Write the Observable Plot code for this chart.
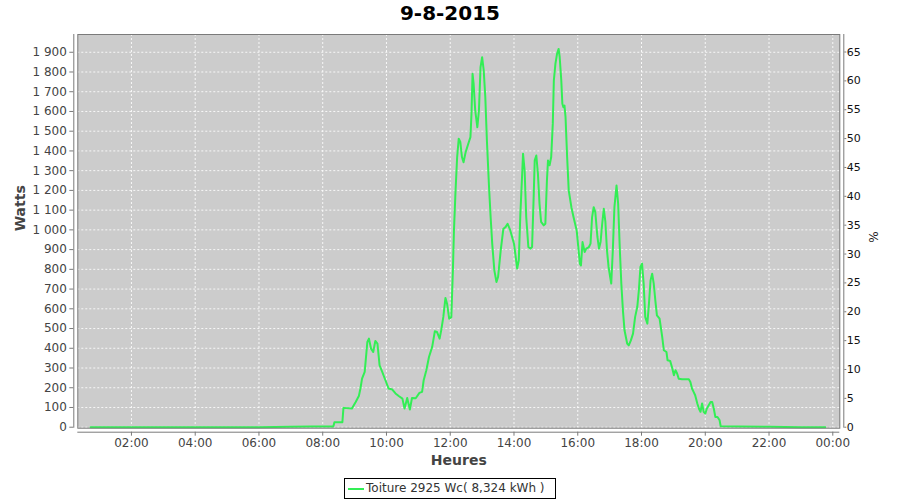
<!DOCTYPE html>
<html>
<head>
<meta charset="utf-8">
<script src="https://cdn.jsdelivr.net/npm/d3@7"></script>
<script src="https://cdn.jsdelivr.net/npm/@observablehq/plot@0.6"></script>
<style>
  html, body { margin: 0; padding: 0; background: #fff; }
  #wrap { position: relative; width: 900px; height: 500px; font-family: "DejaVu Sans", sans-serif; }
  #title { position: absolute; top: 0; left: 0; width: 900px; height: 30px; line-height: 27px; text-align: center; font-weight: bold; font-size: 20px; color: #000; }
  #chart { position: absolute; top: 30px; left: 0; }
  #legend { position: absolute; top: 478px; left: 344px; width: 212px; height: 21px; box-sizing: border-box; border: 1px solid #000; font-size: 12px; color: #333; }
  #legend .sw { position: absolute; left: 3px; top: 8.5px; width: 16px; height: 2px; }
  #legend .tx { position: absolute; left: 21px; top: 0; line-height: 19px; white-space: nowrap; }
</style>
</head>
<body>
<div id="wrap">
  <div id="title">9-8-2015</div>
  <div id="chart"></div>
  <div id="legend"><span class="sw"></span><span class="tx"></span></div>
</div>
<script>
const title = "9-8-2015";
const seriesName = "Toiture 2925 Wc( 8,324 kWh )";
const peakPower = 2925; // Wc, for the % axis
const lineColor = "#33ee55";

const times = [
  "00:43","02:00","04:00","06:00","07:00","07:40","08:00","08:20","08:22","08:37","08:39","08:55",
  "09:02","09:08","09:11","09:14","09:19","09:24","09:27","09:31","09:35","09:39","09:43","09:47","09:52","09:58",
  "10:04","10:11","10:17","10:23","10:30","10:34","10:39","10:44","10:48","10:55",
  "11:02","11:07","11:10","11:15","11:20","11:26","11:31","11:35","11:40","11:43","11:47","11:51","11:54","11:58",
  "12:02","12:05","12:07","12:10","12:13","12:16","12:19","12:22","12:25","12:29","12:35","12:38","12:40","12:42","12:44","12:47","12:51","12:54","12:57",
  "13:00","13:03","13:06","13:09","13:13","13:16","13:19","13:23","13:27","13:30","13:35","13:40","13:44","13:48","13:53",
  "14:00","14:06","14:09","14:12","14:14","14:17","14:20","14:23","14:27","14:31","14:34","14:37","14:39","14:42","14:45","14:48","14:51","14:56","14:59",
  "15:02","15:04","15:07","15:10","15:13","15:15","15:18","15:21","15:24","15:26","15:29","15:31","15:33","15:35","15:37","15:40","15:43","15:48","15:52","15:58",
  "16:01","16:04","16:06","16:09","16:13","16:16","16:21","16:24","16:27","16:30","16:33","16:37","16:40","16:43","16:46","16:49","16:52","16:55","16:58",
  "17:03","17:06","17:09","17:13","17:16","17:19","17:22","17:25","17:28","17:33","17:36","17:40","17:44","17:48","17:52","17:55","17:58",
  "18:01","18:04","18:07","18:11","18:14","18:17","18:20","18:23","18:26","18:29","18:34","18:39","18:42","18:47","18:49","18:54","18:58",
  "19:01","19:04","19:07","19:10","19:16","19:29","19:32","19:35","19:38","19:41","19:45","19:48","19:51","19:54","19:57",
  "20:00","20:03","20:10","20:13","20:16","20:19","20:23","20:27","20:29","21:00","22:00","23:00","23:46"
];
const watts = [
  0,0,0,0,2,3,4,4,25,25,98,95,
  128,158,196,246,280,432,449,398,381,437,424,314,280,238,
  196,191,171,158,145,95,148,90,148,147,
  174,179,238,289,356,407,486,483,449,491,559,655,626,550,
  558,795,997,1200,1369,1462,1445,1369,1343,1394,1445,1470,1588,1791,1740,1605,1520,1605,1824,
  1875,1808,1672,1453,1217,1065,930,795,736,761,896,1006,1014,1031,997,
  930,804,846,1081,1200,1386,1301,1065,913,905,913,1166,1352,1377,1285,1133,1040,1023,1031,
  1251,1352,1327,1369,1537,1757,1842,1892,1917,1875,1757,1639,1622,1630,1571,1369,1200,1115,1065,997,
  913,829,820,938,888,905,913,930,1065,1115,1090,964,905,940,1031,1107,1040,896,812,
  728,896,1115,1225,1133,913,728,592,491,424,415,440,474,559,609,694,812,
  829,728,559,525,626,744,778,728,643,567,550,457,390,381,339,336,297,
  263,289,272,246,243,243,229,196,179,162,120,95,78,120,78,
  69,95,128,128,95,52,52,35,5,3,2,0,0
];
const wattTicks = d3.range(0, 1901, 100);
const pctTicks = d3.range(0, 66, 5);
const hourTicks = d3.range(2, 25, 2);

const toH = t => { const [h, m] = t.split(":").map(Number); return h + m / 60; };
const data = times.map((t, i) => ({h: toH(t), w: watts[i]}));

const fmtW = d3.formatLocale({decimal: ",", thousands: " ", grouping: [3], currency: ["", ""]}).format(",d");
const fmtH = h => String(h % 24).padStart(2, "0") + ":00";

const xDom = [0.317, 24.22];
const yDom = [-5, 1990];
const axisGray = "#7a7a7a";

const chart = Plot.plot({
  width: 900, height: 440,
  marginLeft: 77.3, marginRight: 60.7, marginTop: 4, marginBottom: 42.3,
  style: {fontFamily: "DejaVu Sans", fontSize: "12px", background: "white", overflow: "visible"},
  x: {type: "linear", domain: xDom},
  y: {type: "linear", domain: yDom},
  marks: [
    Plot.frame({fill: "#cccccc", stroke: null}),
    Plot.gridX(hourTicks, {stroke: "#ffffff", strokeOpacity: 0.85, strokeDasharray: "2,2", strokeWidth: 1}),
    Plot.gridY(wattTicks, {stroke: "#ffffff", strokeOpacity: 0.85, strokeDasharray: "2,2", strokeWidth: 1}),
    Plot.line(data, {x: "h", y: "w", stroke: lineColor, strokeWidth: 2}),
    Plot.frame({stroke: axisGray, strokeWidth: 1}),
    // axis lines offset 4px from the plot box
    Plot.ruleX([xDom[0]], {dx: -4, stroke: axisGray}),
    Plot.ruleX([xDom[1]], {dx: 4, stroke: axisGray}),
    Plot.ruleY([yDom[0]], {dy: 4, stroke: axisGray}),
    Plot.axisY(wattTicks, {anchor: "left", dx: -4, tickSize: 4, tickPadding: 3, tickFormat: fmtW, fill: "#444", stroke: axisGray, fontSize: 12, label: null}),
    Plot.axisY(pctTicks.map(p => p * peakPower / 100), {anchor: "right", dx: 4, tickSize: 2, tickPadding: 1, tickFormat: w => Math.round(w / peakPower * 100), fill: "#111", stroke: axisGray, fontSize: 11, label: null}),
    Plot.axisX(hourTicks, {anchor: "bottom", dy: 4, tickSize: 4, tickPadding: 2, tickFormat: fmtH, fill: "#444", stroke: axisGray, fontSize: 12, label: null}),
    Plot.text(["Watts"], {frameAnchor: "left", dx: -57, rotate: -90, fontWeight: "bold", fontSize: 14, fill: "#444"}),
    Plot.text(["Heures"], {frameAnchor: "bottom", dy: 32.5, fontWeight: "bold", fontSize: 14, fill: "#444", lineAnchor: "middle"}),
    Plot.text(["%"], {frameAnchor: "right", dx: 34, rotate: -90, fontSize: 12, fill: "#222"})
  ]
});
document.getElementById("chart").appendChild(chart);
document.getElementById("title").textContent = title;
document.querySelector("#legend .tx").textContent = seriesName;
document.querySelector("#legend .sw").style.background = lineColor;
</script>
</body>
</html>
